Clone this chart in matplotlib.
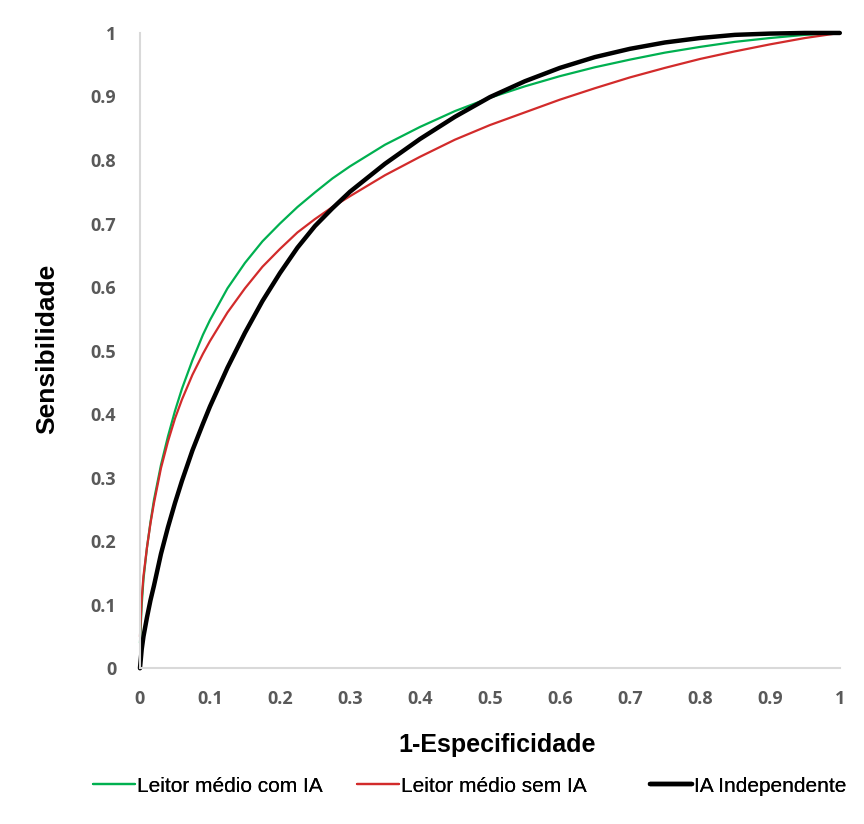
import matplotlib
matplotlib.use("Agg")
import matplotlib.pyplot as plt

# 1-especificidade (FPR)
fpr = [0, 0.0025, 0.005, 0.01, 0.015, 0.02, 0.03, 0.04, 0.05, 0.06, 0.075, 0.09, 0.1,
       0.125, 0.15, 0.175, 0.2, 0.225, 0.25, 0.275, 0.3, 0.35, 0.4, 0.45, 0.5, 0.55,
       0.6, 0.65, 0.7, 0.75, 0.8, 0.85, 0.9, 0.95, 1]

tpr_com_ia = [0.04, 0.10, 0.14, 0.19, 0.23, 0.265, 0.32, 0.365, 0.405, 0.44, 0.485, 0.525, 0.548,
              0.598, 0.638, 0.672, 0.700, 0.726, 0.749, 0.771, 0.790, 0.824, 0.852, 0.877, 0.898, 0.916,
              0.932, 0.946, 0.958, 0.969, 0.978, 0.986, 0.992, 0.997, 1]
tpr_sem_ia = [0.05, 0.11, 0.145, 0.19, 0.228, 0.26, 0.315, 0.357, 0.393, 0.423, 0.462, 0.495, 0.515,
              0.56, 0.598, 0.632, 0.66, 0.686, 0.707, 0.726, 0.743, 0.776, 0.805, 0.832, 0.855, 0.875,
              0.895, 0.913, 0.93, 0.945, 0.959, 0.971, 0.982, 0.992, 1]
tpr_ia = [0, 0.03, 0.05, 0.08, 0.107, 0.13, 0.18, 0.222, 0.26, 0.295, 0.343, 0.385, 0.412,
          0.473, 0.528, 0.578, 0.622, 0.662, 0.696, 0.724, 0.75, 0.794, 0.833, 0.868, 0.899, 0.924,
          0.945, 0.962, 0.975, 0.985, 0.992, 0.997, 0.999, 1.0, 1]

ticks = [0, 0.1, 0.2, 0.3, 0.4, 0.5, 0.6, 0.7, 0.8, 0.9, 1]
tick_labels = ["0", "0.1", "0.2", "0.3", "0.4", "0.5", "0.6", "0.7", "0.8", "0.9", "1"]

fig = plt.figure(figsize=(8.64, 8.24), dpi=100)
ax = fig.add_axes([0.162, 0.189, 0.81, 0.771])

l1, = ax.plot(fpr, tpr_com_ia, color="#00b050", lw=1.6, solid_capstyle="round",
              solid_joinstyle="round")
l2, = ax.plot(fpr, tpr_sem_ia, color="#d22b2b", lw=1.6, solid_capstyle="round",
              solid_joinstyle="round")
l3, = ax.plot(fpr, tpr_ia, color="black", lw=3.2, solid_capstyle="round",
              solid_joinstyle="round")

ax.set_xlim(0, 1)
ax.set_ylim(0, 1)
ax.set_xticks(ticks)
ax.set_xticklabels(tick_labels)
ax.set_yticks(ticks)
ax.set_yticklabels(tick_labels)
ax.tick_params(length=0, colors="#595959", labelsize=13)
ax.tick_params(axis="x", pad=16)
ax.tick_params(axis="y", pad=17)
for lab in ax.get_xticklabels() + ax.get_yticklabels():
    lab.set_fontfamily("Open Sans")
    lab.set_fontweight("bold")

for s in ["top", "right"]:
    ax.spines[s].set_visible(False)
for s in ["left", "bottom"]:
    ax.spines[s].set_color("#d9d9d9")
    ax.spines[s].set_linewidth(1.5)
for ln in ax.get_lines():
    ln.set_clip_on(False)

fig.text(497 / 864, 1 - 745 / 824, "1-Especificidade", fontsize=18, fontweight="bold",
         family="Liberation Sans", ha="center", va="center")
fig.text(47 / 864, 1 - 349 / 824, "Sensibilidade", fontsize=19, fontweight="bold",
         family="Liberation Sans", ha="center", va="center", rotation=90)

# three single-entry legends, placed like the original
entries = [(l1, "Leitor médio com IA", 93), (l2, "Leitor médio sem IA", 357),
           (l3, "IA Independente", 650)]
for handle, text, xpx in entries:
    leg = fig.legend([handle], [text], loc="center left",
                     bbox_to_anchor=(xpx / 864, 1 - 786 / 824), frameon=False,
                     prop={"family": "Liberation Sans", "size": 15},
                     handlelength=2.0, handletextpad=0.1, borderpad=0, borderaxespad=0)
    fig.add_artist(leg)

fig.savefig("out.png", dpi=100)
